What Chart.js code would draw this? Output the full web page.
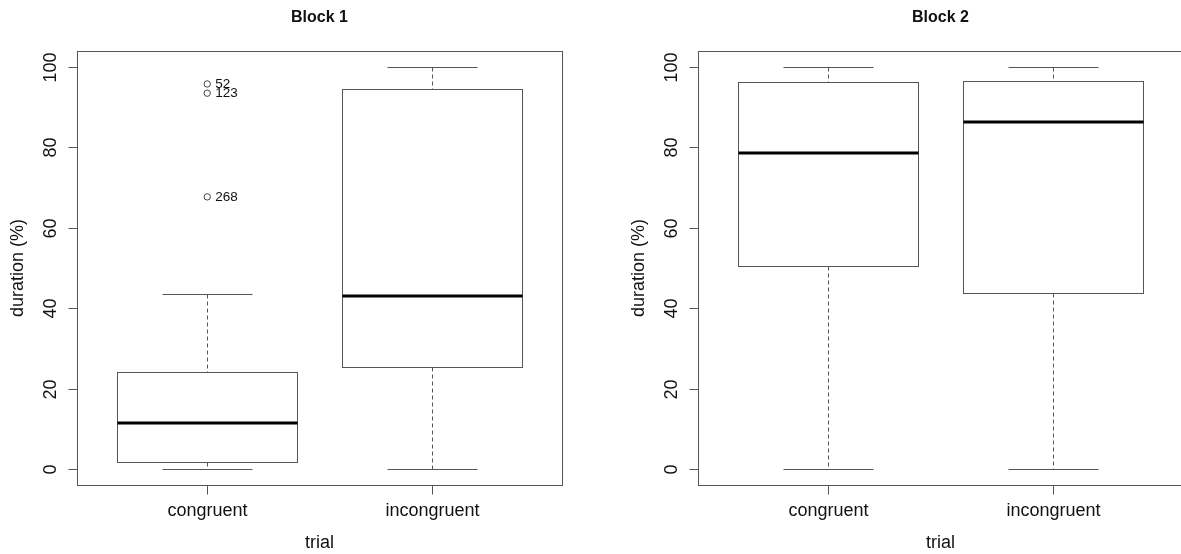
<!DOCTYPE html>
<html lang="en"><head><meta charset="UTF-8">
<title>Block 1 / Block 2 boxplots</title>
<script src="https://cdn.jsdelivr.net/npm/chart.js@4.4.1/dist/chart.umd.min.js"></script>
<style>
*{box-sizing:border-box;margin:0;padding:0;}
html,body{width:1181px;height:554px;overflow:hidden;background:#fff;}
canvas{position:absolute;top:0;}
#c1{left:0;}
#c2{left:600px;}
</style></head>
<body>
<canvas id="c1" width="600" height="554"></canvas>
<canvas id="c2" width="600" height="554"></canvas>
<script>
// --- data ---
const categories = ['congruent', 'incongruent'];
const yTicks = [0, 20, 40, 60, 80, 100];

// block 1: [lower whisker, Q1, median, Q3, upper whisker] per category
const block1Min = [0, 0];
const block1Q1 = [1.6, 25.3];
const block1Med = [11.4, 43.0];
const block1Q3 = [24.1, 94.5];
const block1Max = [43.6, 100];
const block1OutX = [1, 1, 1];
const block1OutY = [95.8, 93.5, 67.7];
const block1OutIds = ['52', '123', '268'];

// block 2
const block2Min = [0, 0];
const block2Q1 = [50.4, 43.9];
const block2Med = [78.6, 86.3];
const block2Q3 = [96.4, 96.6];
const block2Max = [100, 100];

const FONT = 'Arial, "Liberation Sans", sans-serif';
const LINE = '#555';

// R-style boxplot drawing, all positions through chart scales
const boxPlugin = {
  id: 'rbox',
  beforeDatasetsDraw(chart, args, o) {
    const ctx = chart.ctx, xs = chart.scales.x, ys = chart.scales.y;
    ctx.save();
    categories.forEach((c, i) => {
      const xc = xs.getPixelForValue(i + 1);
      const xl = Math.round(xs.getPixelForValue(i + 1 - 0.4)) + 0.5;
      const xr = Math.round(xs.getPixelForValue(i + 1 + 0.4)) + 0.5;
      const cl = Math.round(xs.getPixelForValue(i + 1 - 0.2)) + 0.5;
      const cr = Math.round(xs.getPixelForValue(i + 1 + 0.2)) + 0.5;
      const py = v => Math.round(ys.getPixelForValue(v)) + 0.5;
      const xm = Math.round(xc) + 0.5;
      ctx.strokeStyle = LINE; ctx.lineWidth = 1;
      // whiskers (dashed)
      ctx.setLineDash([4, 3]);
      ctx.beginPath();
      ctx.moveTo(xm, py(o.max[i])); ctx.lineTo(xm, py(o.q3[i]));
      ctx.moveTo(xm, py(o.q1[i])); ctx.lineTo(xm, py(o.min[i]));
      ctx.stroke();
      ctx.setLineDash([]);
      // staples
      ctx.beginPath();
      ctx.moveTo(cl, py(o.max[i])); ctx.lineTo(cr, py(o.max[i]));
      ctx.moveTo(cl, py(o.min[i])); ctx.lineTo(cr, py(o.min[i]));
      ctx.stroke();
      // box
      ctx.fillStyle = '#fff';
      ctx.fillRect(xl, py(o.q3[i]), xr - xl, py(o.q1[i]) - py(o.q3[i]));
      ctx.strokeRect(xl, py(o.q3[i]), xr - xl, py(o.q1[i]) - py(o.q3[i]));
      // median
      ctx.strokeStyle = '#000'; ctx.lineWidth = 3;
      const ym = Math.round(ys.getPixelForValue(o.med[i]));
      ctx.beginPath(); ctx.moveTo(xl, ym); ctx.lineTo(xr, ym); ctx.stroke();
    });
    ctx.restore();
  },
  afterDraw(chart, args, o) {
    const ctx = chart.ctx, xs = chart.scales.x, ys = chart.scales.y, a = chart.chartArea;
    ctx.save();
    ctx.strokeStyle = LINE; ctx.lineWidth = 1;
    const L = Math.round(a.left) + 0.5, R = Math.round(a.right) + 0.5;
    const T = Math.round(a.top) + 0.5, B = Math.round(a.bottom) + 0.5;
    ctx.strokeRect(L, T, R - L, B - T);
    ctx.fillStyle = '#111';
    // y ticks
    ctx.font = '18px ' + FONT;
    ctx.textAlign = 'center'; ctx.textBaseline = 'middle';
    yTicks.forEach(v => {
      const y = Math.round(ys.getPixelForValue(v)) + 0.5;
      ctx.beginPath(); ctx.moveTo(L, y); ctx.lineTo(L - 9, y); ctx.stroke();
      ctx.save(); ctx.translate(L - 26, y); ctx.rotate(-Math.PI / 2);
      ctx.fillText(String(v), 0, 0); ctx.restore();
    });
    // x ticks
    categories.forEach((c, i) => {
      const x = Math.round(xs.getPixelForValue(i + 1)) + 0.5;
      ctx.beginPath(); ctx.moveTo(x, B); ctx.lineTo(x, B + 9); ctx.stroke();
      ctx.fillText(c, x, 511);
    });
    // axis titles
    ctx.fillText('trial', (a.left + a.right) / 2, 543);
    ctx.save(); ctx.translate(L - 59, (a.top + a.bottom) / 2); ctx.rotate(-Math.PI / 2);
    ctx.fillText('duration (%)', 0, 0); ctx.restore();
    ctx.font = 'bold 16px ' + FONT;
    ctx.fillText(o.title, (a.left + a.right) / 2, 18);
    // outlier ids
    if (o.ids) {
      ctx.font = '13.5px ' + FONT; ctx.textAlign = 'left';
      o.ids.forEach((id, k) => {
        ctx.fillText(id, xs.getPixelForValue(o.outX[k]) + 8, ys.getPixelForValue(o.outY[k]));
      });
    }
    ctx.restore();
  }
};

function makeChart(id, pad, stats, outX, outY) {
  return new Chart(document.getElementById(id), {
    type: 'scatter',
    data: {
      datasets: [{
        data: outX.map((x, k) => ({ x: x, y: outY[k] })),
        pointStyle: 'circle', pointRadius: 3.2, borderWidth: 1,
        borderColor: '#444', backgroundColor: 'rgba(0,0,0,0)'
      }]
    },
    options: {
      responsive: false, animation: false, devicePixelRatio: 1,
      layout: { padding: pad },
      plugins: { legend: { display: false }, tooltip: { enabled: false }, rbox: stats },
      scales: {
        x: { type: 'linear', min: 0.42, max: 2.58, display: false },
        y: { type: 'linear', min: -4, max: 104, display: false }
      }
    },
    plugins: [boxPlugin]
  });
}

makeChart('c1', { left: 77, right: 38, top: 51, bottom: 69 },
  { title: 'Block 1', min: block1Min, q1: block1Q1, med: block1Med, q3: block1Q3, max: block1Max,
    ids: block1OutIds, outX: block1OutX, outY: block1OutY },
  block1OutX, block1OutY);

makeChart('c2', { left: 98, right: 17, top: 51, bottom: 69 },
  { title: 'Block 2', min: block2Min, q1: block2Q1, med: block2Med, q3: block2Q3, max: block2Max },
  [], []);
</script>
</body></html>
